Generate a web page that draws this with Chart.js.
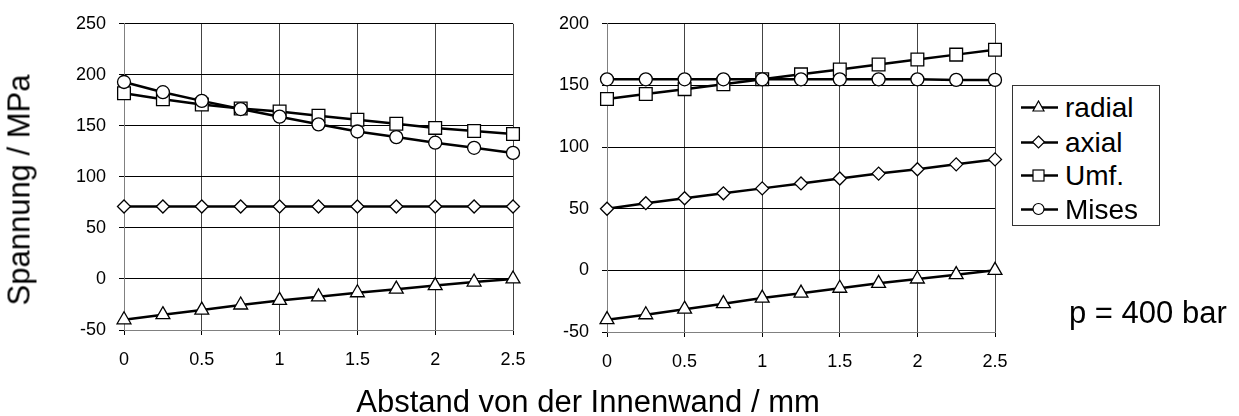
<html>
<head>
<meta charset="utf-8">
<title>Spannung</title>
<script src="https://cdn.jsdelivr.net/npm/chart.js"></script>
<style>
  body { margin: 0; width: 1239px; height: 416px; background: #fff; position: relative; overflow: hidden;
         font-family: "Liberation Sans", Arial, sans-serif; color: #000; }
  canvas { position: absolute; left: 0; top: 0; }
  .lbl { position: absolute; white-space: nowrap; font-size: 31px; line-height: 31px; }
  #legend { position: absolute; left: 1012px; top: 85px; width: 148px; height: 141px;
            border: 1px solid #333; box-sizing: border-box; background: #fff; }
  .row { position: absolute; left: 0; height: 34px; line-height: 34px; font-size: 28px; }
  .row svg { position: absolute; left: 6px; top: 9px; }
  .row span { position: absolute; left: 52px; top: 0; }
</style>
</head>
<body>
<canvas id="left" width="1239" height="416"></canvas>
<canvas id="right" width="1239" height="416"></canvas>

<div class="lbl" id="ytitle" style="left:19px; top:190px; transform: translate(-50%,-50%) rotate(-90deg);">Spannung / MPa</div>
<div class="lbl" id="xtitle" style="left:588px; top:386px; transform: translateX(-50%);">Abstand von der Innenwand / mm</div>
<div class="lbl" id="pnote" style="left:1069px; top:297px;">p = 400 bar</div>
<div id="legend"></div>

<script>
// x positions (mm) shared by both panels
const abstand = [0, 0.25, 0.5, 0.75, 1, 1.25, 1.5, 1.75, 2, 2.25, 2.5];
const names = ["radial", "axial", "Umf.", "Mises"];
const markers = ["triangle", "rectRot", "rect", "circle"];
const markerSize = [8, 6.5, 9, 6.5];

// left panel
const radialL = [-40, -35, -30.5, -25.5, -21, -17.5, -13.5, -10, -6.5, -3, 0];
const axialL  = [71, 71, 71, 71, 71, 71, 71, 71, 71, 71, 71];
const umfL    = [182, 176, 171, 167, 164, 160, 156, 152, 148, 145, 142];
const misesL  = [193, 183, 174.5, 166.5, 159, 151.5, 144.5, 139, 133.5, 128.5, 123.5];

// right panel
const radialR = [-40, -36, -31.5, -27, -22.5, -18.5, -14.5, -10.5, -7, -3.5, 0];
const axialR  = [50, 54.5, 58.5, 62.5, 66.5, 70.5, 74.5, 78.5, 82, 86, 90];
const umfR    = [139, 143, 147, 151, 155, 159, 163, 167, 171, 175, 179];
const misesR  = [155, 155, 155, 155, 155, 155, 155, 155, 155, 154.5, 154.5];

const tickFont = { family: "'Liberation Sans', Arial, sans-serif", size: 18 };

function makeChart(id, series, yMax, pad, yWidth) {
    const datasets = series.map((vals, i) => ({
        label: names[i],
        data: vals.map((v, j) => ({ x: abstand[j], y: v })),
        borderColor: "#000",
        borderWidth: 2.5,
        pointStyle: markers[i],
        pointRadius: markerSize[i],
        pointBackgroundColor: "#fff",
        pointBorderColor: "#000",
        pointBorderWidth: 1.3,
        order: 4 - i,
        clip: false
    }));
    return new Chart(document.getElementById(id), {
        type: "line",
        data: { datasets: datasets },
        options: {
            responsive: false,
            animation: false,
            layout: { padding: pad, autoPadding: false },
            plugins: { legend: { display: false }, tooltip: { enabled: false } },
            scales: {
                x: {
                    type: "linear", min: 0, max: 2.5,
                    ticks: { stepSize: 0.5, color: "#000", font: tickFont, padding: 14, maxRotation: 0,
                             callback: v => String(v) },
                    grid: { color: "#444", lineWidth: 1, tickLength: 5, tickColor: "#000" },
                    border: { color: "#808080", width: 1 },
                    afterFit: s => { s.height = 40; }
                },
                y: {
                    min: -50, max: yMax,
                    ticks: { stepSize: 50, color: "#000", font: tickFont, padding: 13 },
                    grid: { color: "#000", lineWidth: 1, tickLength: 5, tickColor: "#000" },
                    border: { color: "#808080", width: 1 },
                    afterFit: s => { s.width = yWidth; }
                }
            }
        }
    });
}

makeChart("left", [radialL, axialL, umfL, misesL], 250,
          { left: 0, top: 21, right: 726, bottom: 46 }, 124);
makeChart("right", [radialR, axialR, umfR, misesR], 200,
          { left: 547, top: 21, right: 244, bottom: 44 }, 60);

// legend: line with marker, then the name
const shapes = [
    '<polygon points="19.5,1 25,11 14,11" />',
    '<polygon points="19.5,1 25.5,7 19.5,13 13.5,7" />',
    '<rect x="14" y="2" width="11" height="11" />',
    '<circle cx="19.5" cy="7" r="5.5" />'
];
const rowTops = [5, 39.5, 73, 106.5];
const legend = document.getElementById("legend");
names.forEach((n, i) => {
    const row = document.createElement("div");
    row.className = "row";
    row.style.top = rowTops[i] + "px";
    row.innerHTML = '<svg width="40" height="16"><line x1="2" y1="7.5" x2="39" y2="7.5" stroke="#000" stroke-width="2.5"/>' +
        '<g fill="#fff" stroke="#000" stroke-width="1.2">' + shapes[i] + '</g></svg><span>' + n + '</span>';
    legend.appendChild(row);
});
</script>
</body>
</html>
